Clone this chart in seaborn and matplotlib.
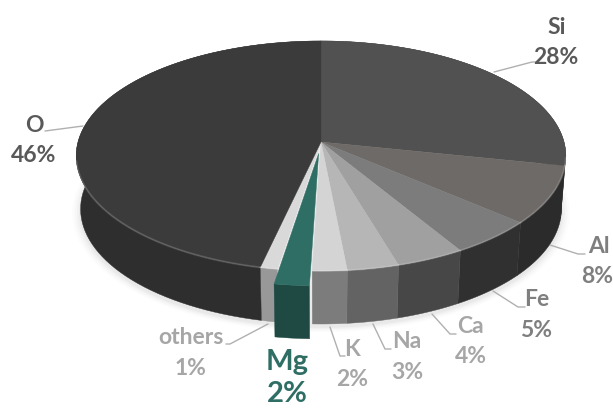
import numpy as np
import matplotlib
matplotlib.use("Agg")
import matplotlib.pyplot as plt
import seaborn as sns

# Crustal abundance of the elements, percent, clockwise from twelve o'clock
elements = ["Si", "Al", "Fe", "Ca", "Na", "K", "Mg", "others", "O"]
percent = [28, 8, 5, 4, 3, 2, 2, 1, 46]

top_colors = ["#515151", "#6e6a68", "#7c7c7c", "#a0a0a0", "#b6b6b6", "#d4d4d4",
              "#2f6e64", "#d9d9d9", "#3b3b3b"]
side_colors = ["#2c2c2c", "#2b2b2b", "#303030", "#474747", "#636363", "#7c7c7c",
               "#1e4a43", "#989898", "#2e2e2e"]
exploded = "Mg"

sns.set_theme(style="white")
plt.rcParams["font.family"] = ["Lato", "DejaVu Sans"]

# Projection of the disc: apex position, radii, perspective and wall depth
CX, CY = 321.0, 143.0
RX, RY = 243.0, 113.3
PERSP = 0.1217
WALL = 53.0
BASE_SCALE = 0.982


def project(u, v, drop=0.0, scale=1.0):
    w = 1.0 + PERSP * v
    return CX + scale * RX * u / w, CY - RY * v / w + drop


def rim(a0, a1, ox=0.0, oy=0.0, n=80):
    t = np.radians(np.linspace(a0, a1, n))
    return ox + np.sin(t), oy + np.cos(t)


fig, ax = plt.subplots(figsize=(6.13, 4.10), dpi=100)
fig.subplots_adjust(0, 0, 1, 1)
ax.set_xlim(0, 613)
ax.set_ylim(410, 0)
ax.set_axis_off()

shares = np.asarray(percent, float) / np.sum(percent) * 360.0
edges = np.concatenate([[0.0], np.cumsum(shares)])

# Soft contact shadow beneath the disc
u, v = rim(0, 360, n=200)
for grow, alpha in [(1.035, 0.012), (1.025, 0.018), (1.015, 0.025), (1.006, 0.03)]:
    x, y = project(u * grow, v * grow, drop=WALL + 3, scale=BASE_SCALE)
    ax.fill(x, y, color="black", alpha=alpha, lw=0, zorder=1)


def draw_wall(a0, a1, color, ox=0.0, oy=0.0, zorder=2):
    u, v = rim(a0, a1, ox, oy)
    xt, yt = project(u, v)
    xb, yb = project(u, v, drop=WALL, scale=BASE_SCALE)
    ax.fill(np.r_[xt, xb[::-1]], np.r_[yt, yb[::-1]], color=color, lw=0.3,
            ec=color, zorder=zorder)
    return xt, yt


def draw_top(a0, a1, color, ox=0.0, oy=0.0, zorder=3):
    u, v = rim(a0, a1, ox, oy)
    xt, yt = project(u, v)
    xc, yc = project(np.array([ox]), np.array([oy]))
    ax.fill(np.r_[xc, xt], np.r_[yc, yt], color=color, lw=0.3, ec=color, zorder=zorder)
    return xt, yt


# Walls first, then the top faces so the back of the wall stays hidden
for name, a0, a1, c in zip(elements, edges[:-1], edges[1:], side_colors):
    if name != exploded:
        draw_wall(a0, a1, c)
for name, a0, a1, c in zip(elements, edges[:-1], edges[1:], top_colors):
    if name != exploded:
        xt, yt = draw_top(a0, a1, c)
        front = yt > CY + 15
        ax.plot(xt[front], yt[front], color="white", alpha=0.16, lw=1.4, zorder=4)

# The highlighted slice is pulled out along its bisector
i = elements.index(exploded)
mid = np.radians((edges[i] + edges[i + 1]) / 2)
ox, oy = 0.1 * np.sin(mid), 0.1 * np.cos(mid)
draw_wall(edges[i], edges[i + 1], side_colors[i], ox, oy, zorder=5)
draw_top(edges[i], edges[i + 1], top_colors[i], ox, oy, zorder=6)

# Leader lines and two-line labels
DARK, MID, LIGHT, TEAL = "#595959", "#7f7f7f", "#a6a6a6", "#2f6e64"
label_style = {
    "Si": (557, 27, 556, 57, DARK, [(494, 73), (532, 63), (536, 63)]),
    "Al": (599, 247, 597, 277, MID, [(550, 246), (578, 255), (585, 255)]),
    "Fe": (537, 300, 536, 331, MID, [(493, 292), (518, 308), (525, 308)]),
    "Ca": (470, 327, 471, 357, LIGHT, [(432, 315), (450, 335), (456, 335)]),
    "Na": (407, 342, 407, 373, LIGHT, [(373, 325), (385, 350), (391, 350)]),
    "K": (352, 350, 352, 380, LIGHT, [(330, 328), (340, 357), (345, 357)]),
    "others": (191, 338, 190, 369, LIGHT, [(268, 325), (230, 345), (226, 345)]),
    "O": (34, 125, 34, 156, DARK, [(83, 127), (45, 132)]),
}
for name, pct in zip(elements, percent):
    if name == exploded:
        ax.text(287, 362, name, color=TEAL, fontsize=21, fontweight="bold",
                ha="center", va="center", zorder=7)
        ax.text(287, 394, f"{pct}%", color=TEAL, fontsize=21, fontweight="bold",
                ha="center", va="center", zorder=7)
        continue
    nx, ny, px, py, col, path = label_style[name]
    ax.text(nx, ny, name, color=col, fontsize=16.5, fontweight="bold",
            ha="center", va="center", zorder=7)
    ax.text(px, py, f"{pct}%", color=col, fontsize=16.5, fontweight="bold",
            ha="center", va="center", zorder=7)
    ax.plot(*zip(*path), color="#b0b0b0", lw=1.0, zorder=1.5)

fig.savefig("out.png", dpi=100)
